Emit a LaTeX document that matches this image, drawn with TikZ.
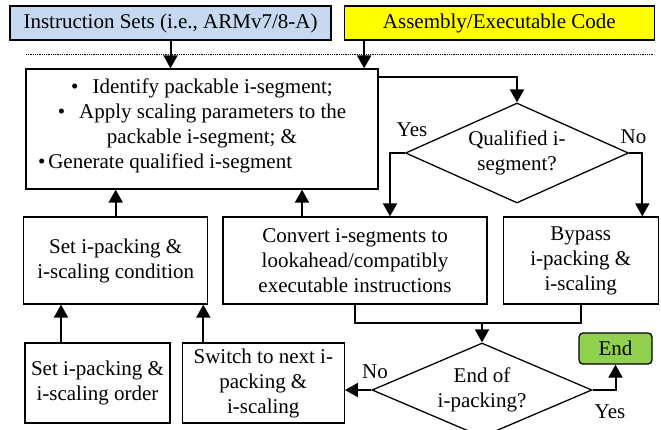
\documentclass[tikz,border=0pt]{standalone}
\usepackage{fontspec}
\setmainfont{Liberation Serif}
\usetikzlibrary{positioning}
\usetikzlibrary{shapes.geometric}
\usetikzlibrary{arrows.meta}
\definecolor{isablue}{RGB}{198,217,241}
\definecolor{asmyellow}{RGB}{255,255,0}
\definecolor{endgreen}{RGB}{146,208,80}

\begin{document}
\begin{tikzpicture}[
x=1pt, y=-1pt,
font=\fontsize{21}{25}\selectfont,
boxnode/.style={rectangle, draw, line width=1.3pt, align=center, inner sep=0pt},
decnode/.style={diamond, draw, line width=1.3pt, align=center, inner sep=0pt},
flow/.style={line width=2pt, -{Triangle[length=13pt, width=14pt]}},
plain/.style={line width=2pt},
]
\useasboundingbox (0,0) rectangle (661,429);
\clip (0,0) rectangle (661,429);

%Nodes
\node[boxnode, fill=isablue, minimum width=321pt, minimum height=34pt] (isa) at (170.5,23) {Instruction Sets (i.e., ARMv7/8-A)};
\node[boxnode, fill=asmyellow, minimum width=310pt, minimum height=34pt] (asm) [right=12pt of isa] {Assembly/Executable Code};
\coordinate (sepL) at (26,54);
\coordinate (sepR) at (653,54);

\node[boxnode, minimum width=352pt, minimum height=120pt] (main) at (202,129) {\textbullet\hspace{14pt}Identify packable i-segment;\\
\textbullet\hspace{14pt}Apply scaling parameters to the\\
packable i-segment; \&\\
\makebox[328pt][l]{\textbullet\hspace{3pt}Generate qualified i-segment}\\[-14pt]\mbox{}};
\node[decnode, aspect=2.23, minimum width=223pt, minimum height=100pt] (qual) at (517,153) {Qualified i-\\segment?};

\node[boxnode, minimum width=264pt, minimum height=87pt] (conv) at (355,260.5) {Convert i-segments to\\lookahead/compatibly\\executable instructions};
\node[boxnode, minimum width=155pt, minimum height=87pt] (bypass) [right=15pt of conv] {Bypass\\i-packing \&\\i-scaling};
\node[boxnode, minimum width=184pt, minimum height=87pt] (cond) [left=14pt of conv] {Set i-packing \&\\i-scaling condition};

\node[boxnode, minimum width=145pt, minimum height=80pt] (order) at (97.5,383) {Set i-packing \&\\i-scaling order};
\node[boxnode, minimum width=162pt, minimum height=80pt] (switch) [right=11pt of order] {Switch to next i-\\packing \&\\i-scaling};
\node[decnode, aspect=2.34, minimum width=220pt, minimum height=94pt] (endq) at (482,390) {End of\\i-packing?};
\node[boxnode, fill=endgreen, rounded corners=4pt, minimum width=73pt, minimum height=31pt] (endbox) at (615.5,348.5) {End};
\coordinate (merge) at (482,323);

\node (yesq) at (412,130) {Yes};
\node (noq) at (633.5,137) {No};
\node (noe) at (375,372) {No};
\node (yese) at (610,412) {Yes};

%Lines
\draw[line width=0.9pt, dash pattern=on 0.9pt off 0.9pt] (sepL) -- (sepR);
\draw[flow] (isa.south) -- (isa.south |- main.north);
\draw[flow] ([xshift=20.5pt]asm.south west) -- ([xshift=20.5pt]asm.south west |- main.north);
\draw[flow] ([yshift=-9pt]main.north east) -| (qual.north);
\draw[flow] (qual.west) -| ([xshift=35pt]conv.north);
\draw[flow] (qual.east) -| ([xshift=61.5pt]bypass.north);
\draw[flow] (cond.north) -- (cond.north |- main.south);
\draw[flow] ([xshift=-53pt]conv.north) -- ([xshift=-53pt]conv.north |- main.south);
\draw[flow] ([xshift=-36.5pt]order.north) -- ([xshift=-36.5pt]order.north |- cond.south);
\draw[flow] ([xshift=-60pt]switch.north) -- ([xshift=-60pt]switch.north |- cond.south);
\draw[plain] (conv.south) |- (merge) -| (bypass.south);
\draw[flow] (merge) -- (endq.north);
\draw[flow] (endq.east) -| (endbox.south);
\draw[flow] (endq.west) -- (endq.west -| switch.east);
\end{tikzpicture}
\end{document}
